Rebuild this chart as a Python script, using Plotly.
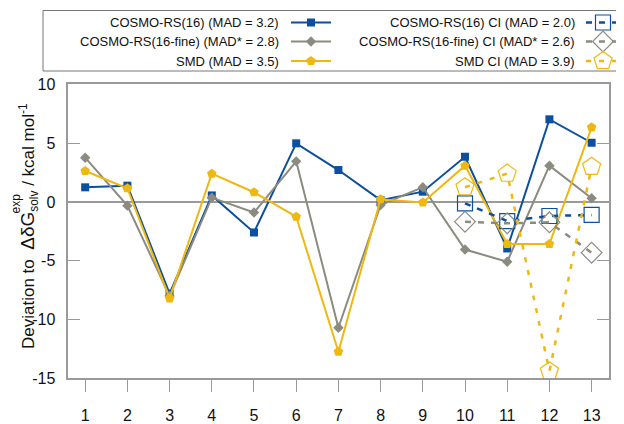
import plotly.graph_objects as go

# ---------------- data ----------------
compounds = list(range(1, 14))
cosmo16 = [1.24, 1.38, -7.8, 0.55, -2.6, 4.98, 2.71, 0.15, 0.87, 3.84, -3.96, 7.02, 5.03]
cosmo16_fine = [3.76, -0.32, -8.0, 0.36, -0.9, 3.45, -10.7, -0.26, 1.25, -4.05, -5.09, 3.08, 0.31]
smd = [2.63, 1.16, -8.2, 2.4, 0.82, -1.26, -12.74, 0.22, -0.05, 3.08, -3.58, -3.58, 6.34]

ci_compounds = [10, 11, 12, 13]
cosmo16_ci = [-0.12, -1.63, -1.2, -1.11]
cosmo16_fine_ci = [-1.68, -1.82, -1.74, -4.32]
smd_ci = [1.25, 2.41, -14.4, 2.99]

x_ticks = compounds
x_ticklabels = [str(v) for v in compounds]
y_ticks = [10, 5, 0, -5, -10, -15]
y_ticklabels = ["10", "5", "0", "-5", "-10", "-15"]

labels = [
    "COSMO-RS(16) (MAD = 3.2)",
    "COSMO-RS(16-fine) (MAD* = 2.8)",
    "SMD (MAD = 3.5)",
    "COSMO-RS(16) CI (MAD = 2.0)",
    "COSMO-RS(16-fine) CI (MAD* = 2.6)",
    "SMD CI (MAD = 3.9)",
]

# ---------------- styles ----------------
# The page shows the figure offset by the body margin (8 px), so the figure
# is 8 px smaller and all pixel positions below are given in window pixels.
OFF = 8
W, H = 624 - OFF, 424 - OFF
BLUE = "#0b4f9e"
GRAY = "#8b8b80"
YELLOW = "#efb810"
AXIS = "#9a9a9a"
FONT = "Liberation Sans, Arial, sans-serif"

def px_x(p):
    return (p - OFF) / W

def px_y(p):
    return 1 - (p - OFF) / H

styles = [
    dict(color=BLUE, symbol="square", size=8, dash="solid", width=2),
    dict(color=GRAY, symbol="diamond", size=8, dash="solid", width=2),
    dict(color=YELLOW, symbol="pentagon", size=10, dash="solid", width=2),
    dict(color=BLUE, symbol="square-open", size=15, dash="6px,7px", width=2.5),
    dict(color=GRAY, symbol="diamond-open", size=16, dash="6px,7px", width=2.5),
    dict(color=YELLOW, symbol="pentagon-open", size=19, dash="5px,8px", width=2.5),
]

series = [
    (compounds, cosmo16),
    (compounds, cosmo16_fine),
    (compounds, smd),
    (ci_compounds, cosmo16_ci),
    (ci_compounds, cosmo16_fine_ci),
    (ci_compounds, smd_ci),
]

fig = go.Figure()

for (xs, ys), st, lab in zip(series, styles, labels):
    fig.add_trace(go.Scatter(
        x=xs, y=ys, mode="lines+markers", name=lab, showlegend=False,
        line=dict(color=st["color"], width=st["width"], dash=st["dash"]),
        marker=dict(symbol=st["symbol"], size=st["size"], color=st["color"],
                    line=dict(width=1.2 if "open" in st["symbol"] else 0, color=st["color"])),
        cliponaxis=False,
    ))

# ---------------- custom legend (text left of sample) ----------------
row_y = [22.5, 41.5, 61]
col_text_x = [281, 577]
col_line = [(291, 331), (586, 624)]
col_marker = [311, 603]
for i, (lab, st) in enumerate(zip(labels, styles)):
    c = i // 3
    r = i % 3
    fig.add_trace(go.Scatter(
        x=[col_line[c][0], col_line[c][1]], y=[row_y[r], row_y[r]],
        mode="lines", xaxis="x2", yaxis="y2", showlegend=False, hoverinfo="skip",
        line=dict(color=st["color"], width=st["width"], dash=st["dash"]),
    ))
    fig.add_trace(go.Scatter(
        x=[col_marker[c]], y=[row_y[r]],
        mode="markers", xaxis="x2", yaxis="y2", showlegend=False, hoverinfo="skip",
        marker=dict(symbol=st["symbol"], size=st["size"], color=st["color"],
                    line=dict(width=1.2 if "open" in st["symbol"] else 0, color=st["color"])),
    ))
    fig.add_annotation(
        x=col_text_x[c], y=row_y[r], xref="x2", yref="y2", text=lab,
        xanchor="right", yanchor="middle", showarrow=False,
        font=dict(family=FONT, size=13, color="#111"),
    )

fig.add_shape(type="rect", xref="paper", yref="paper",
              x0=px_x(43), x1=px_x(640), y0=px_y(71), y1=px_y(10.5),
              line=dict(color="#777", width=1), fillcolor="rgba(0,0,0,0)")

# y-axis title (superscript "exp" stacked over subscript "solv")
fig.add_annotation(
    x=px_x(28), y=px_y(226), xref="paper", yref="paper",
    text="Deviation to  <span style='font-size:19px'>ΔδG</span><sub>solv</sub> / kcal mol<sup>-1</sup>",
    textangle=-90, showarrow=False, xanchor="center", yanchor="middle",
    font=dict(family=FONT, size=17, color="#111"),
)
fig.add_annotation(
    x=px_x(15.5), y=px_y(204), xref="paper", yref="paper",
    text="exp", textangle=-90, showarrow=False, xanchor="center", yanchor="middle",
    borderpad=0, font=dict(family=FONT, size=12, color="#111"),
)

fig.update_layout(
    width=W, height=H,
    margin=dict(l=0, r=0, t=0, b=0, autoexpand=False),
    paper_bgcolor="white", plot_bgcolor="white",
    font=dict(family=FONT, size=16, color="#111"),
    showlegend=False,
    xaxis=dict(
        domain=[px_x(68.3), px_x(608.5)], range=[0.6, 13.4],
        tickvals=x_ticks, ticktext=x_ticklabels,
        ticks="outside", ticklen=12, tickwidth=1.2, tickcolor=AXIS,
        showline=True, linecolor=AXIS, linewidth=1.5, mirror=True,
        showgrid=False, zeroline=False, ticklabelstandoff=10,
        tickfont=dict(family=FONT, size=16, color="#111"),
    ),
    yaxis=dict(
        domain=[px_y(378.3), px_y(84.3)], range=[-15, 10],
        tickvals=y_ticks, ticktext=y_ticklabels,
        ticks="inside", ticklen=12, tickwidth=1.2, tickcolor=AXIS,
        showline=True, linecolor=AXIS, linewidth=1.5, mirror="ticks",
        showgrid=False, zeroline=True, zerolinecolor=AXIS, zerolinewidth=1.5,
        ticklabelstandoff=8,
        tickfont=dict(family=FONT, size=16, color="#111"),
    ),
    xaxis2=dict(domain=[0, 1], range=[OFF, 624], visible=False, anchor="y2"),
    yaxis2=dict(domain=[px_y(80), 1], range=[80, OFF], visible=False, anchor="x2"),
)

fig.write_html("out.html")
